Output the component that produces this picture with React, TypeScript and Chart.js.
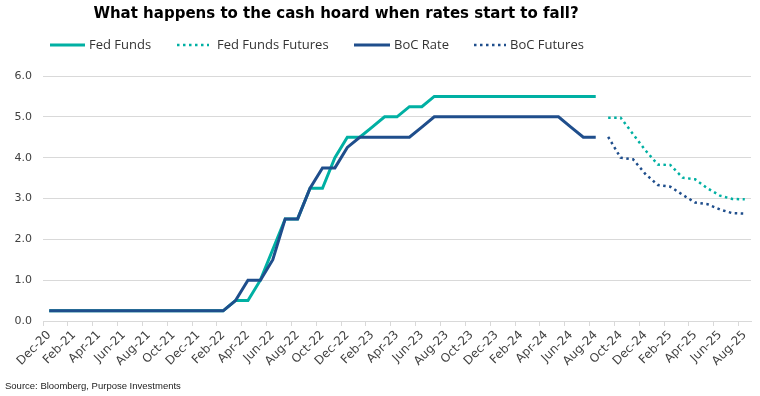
import React, { useEffect, useRef } from 'react';
import { Chart, registerables } from 'chart.js';

Chart.register(...registerables);

const TITLE = 'What happens to the cash hoard when rates start to fall?';
const SOURCE = 'Source: Bloomberg, Purpose Investments';

const months = [
  'Dec-20',
  'Jan-21', 'Feb-21', 'Mar-21', 'Apr-21', 'May-21', 'Jun-21', 'Jul-21', 'Aug-21', 'Sep-21', 'Oct-21', 'Nov-21', 'Dec-21',
  'Jan-22', 'Feb-22', 'Mar-22', 'Apr-22', 'May-22', 'Jun-22', 'Jul-22', 'Aug-22', 'Sep-22', 'Oct-22', 'Nov-22', 'Dec-22',
  'Jan-23', 'Feb-23', 'Mar-23', 'Apr-23', 'May-23', 'Jun-23', 'Jul-23', 'Aug-23', 'Sep-23', 'Oct-23', 'Nov-23', 'Dec-23',
  'Jan-24', 'Feb-24', 'Mar-24', 'Apr-24', 'May-24', 'Jun-24', 'Jul-24', 'Aug-24', 'Sep-24', 'Oct-24', 'Nov-24', 'Dec-24',
  'Jan-25', 'Feb-25', 'Mar-25', 'Apr-25', 'May-25', 'Jun-25', 'Jul-25', 'Aug-25',
];

// Dec-20 .. Aug-24
const fedFunds = [
  0.25,
  0.25, 0.25, 0.25, 0.25, 0.25, 0.25, 0.25, 0.25, 0.25, 0.25, 0.25, 0.25,
  0.25, 0.25, 0.5, 0.5, 1.0, 1.75, 2.5, 2.5, 3.25, 3.25, 4.0, 4.5,
  4.5, 4.75, 5.0, 5.0, 5.25, 5.25, 5.5, 5.5, 5.5, 5.5, 5.5, 5.5,
  5.5, 5.5, 5.5, 5.5, 5.5, 5.5, 5.5, 5.5,
];

const bocRate = [
  0.25,
  0.25, 0.25, 0.25, 0.25, 0.25, 0.25, 0.25, 0.25, 0.25, 0.25, 0.25, 0.25,
  0.25, 0.25, 0.5, 1.0, 1.0, 1.5, 2.5, 2.5, 3.25, 3.75, 3.75, 4.25,
  4.5, 4.5, 4.5, 4.5, 4.5, 4.75, 5.0, 5.0, 5.0, 5.0, 5.0, 5.0,
  5.0, 5.0, 5.0, 5.0, 5.0, 4.75, 4.5, 4.5,
];

// Sep-24 .. Aug-25
const fedFuturesValues = [4.98, 4.98, 4.58, 4.18, 3.83, 3.82, 3.51, 3.47, 3.25, 3.07, 2.99, 2.98];
const bocFuturesValues = [4.51, 4.0, 3.96, 3.6, 3.33, 3.29, 3.09, 2.9, 2.86, 2.73, 2.64, 2.63];

const seriesNames = ['Fed Funds', 'Fed Funds Futures', 'BoC Rate', 'BoC Futures'];
const yTicks = [0, 1, 2, 3, 4, 5, 6];

const TEAL = '#00B0A3';
const BLUE = '#1F4E8C';
const DOT_DASH = [2.5, 3.5];

function padStart<T>(arr: T[], count: number): (T | null)[] {
  return [...new Array(count).fill(null), ...arr];
}

const overlayPlugin = {
  id: 'overlay',
  afterDraw(chart: any) {
    const ctx = chart.ctx as CanvasRenderingContext2D;
    ctx.save();
    // Title
    ctx.fillStyle = '#000000';
    ctx.font = 'bold 15px "DejaVu Sans"';
    ctx.textAlign = 'center';
    ctx.textBaseline = 'alphabetic';
    ctx.fillText(TITLE, 336, 18);

    // Legend
    const items = [
      { x0: 50, x1: 85, tx: 89, color: TEAL, dash: [] as number[] },
      { x0: 177, x1: 209, tx: 217, color: TEAL, dash: DOT_DASH },
      { x0: 354, x1: 390, tx: 394, color: BLUE, dash: [] as number[] },
      { x0: 474, x1: 506, tx: 510, color: BLUE, dash: DOT_DASH },
    ];
    const ly = 45;
    items.forEach((it, i) => {
      ctx.beginPath();
      ctx.setLineDash(it.dash);
      ctx.lineWidth = it.dash.length ? 2.5 : 3;
      ctx.strokeStyle = it.color;
      ctx.moveTo(it.x0, ly);
      ctx.lineTo(it.x1, ly);
      ctx.stroke();
      ctx.setLineDash([]);
      ctx.fillStyle = '#333333';
      ctx.font = '13px "Open Sans"';
      ctx.textAlign = 'left';
      ctx.textBaseline = 'middle';
      ctx.fillText(seriesNames[i], it.tx, ly);
    });

    // Source
    ctx.fillStyle = '#222222';
    ctx.font = '9.5px "Liberation Sans"';
    ctx.textAlign = 'left';
    ctx.textBaseline = 'middle';
    ctx.fillText(SOURCE, 5, 386);
    ctx.restore();
  },
};

export default function App() {
  const canvasRef = useRef<HTMLCanvasElement | null>(null);

  useEffect(() => {
    document.body.style.margin = '0';
    const canvas = canvasRef.current;
    if (!canvas) return;
    const nFut = fedFunds.length;
    const chart = new Chart(canvas, {
      type: 'line',
      data: {
        labels: months,
        datasets: [
          {
            label: seriesNames[0],
            data: fedFunds,
            borderColor: TEAL,
            backgroundColor: TEAL,
            borderWidth: 3,
            pointRadius: 0,
            tension: 0,
            order: 2,
          },
          {
            label: seriesNames[1],
            data: padStart(fedFuturesValues, nFut),
            borderColor: TEAL,
            backgroundColor: TEAL,
            borderWidth: 2.5,
            borderDash: DOT_DASH,
            pointRadius: 0,
            tension: 0,
            order: 3,
          },
          {
            label: seriesNames[2],
            data: bocRate,
            borderColor: BLUE,
            backgroundColor: BLUE,
            borderWidth: 3,
            pointRadius: 0,
            tension: 0,
            order: 0,
          },
          {
            label: seriesNames[3],
            data: padStart(bocFuturesValues, nFut),
            borderColor: BLUE,
            backgroundColor: BLUE,
            borderWidth: 2.5,
            borderDash: DOT_DASH,
            pointRadius: 0,
            tension: 0,
            order: 1,
          },
        ],
      },
      options: {
        responsive: false,
        animation: false,
        layout: { padding: { left: 0, right: 9, top: 76, bottom: 0 } },
        plugins: {
          legend: { display: false },
          title: { display: false },
          tooltip: { enabled: false },
        },
        scales: {
          x: {
            type: 'category',
            offset: true,
            afterFit: (scale: any) => {
              scale.height = 75;
            },
            grid: {
              offset: true,
              drawOnChartArea: false,
              drawTicks: true,
              tickLength: 5,
              color: (c: any) => (typeof c.index === 'number' && c.index % 2 === 0 ? '#d9d9d9' : 'rgba(0,0,0,0)'),
            },
            border: { display: true, color: '#d9d9d9', width: 1 },
            ticks: {
              autoSkip: false,
              maxRotation: 45,
              minRotation: 45,
              padding: 2,
              color: '#404040',
              font: { family: '"DejaVu Sans"', size: 12 },
              callback: (_v: any, i: number) => (i % 2 === 0 ? months[i] : ''),
            },
          },
          y: {
            min: yTicks[0],
            max: yTicks[yTicks.length - 1],
            afterFit: (scale: any) => {
              scale.width = 43;
            },
            afterBuildTicks: (scale: any) => {
              scale.ticks = yTicks.map((v) => ({ value: v }));
            },
            grid: { color: '#d9d9d9', drawTicks: false, lineWidth: 1 },
            border: { display: false },
            ticks: {
              padding: 11,
              color: '#404040',
              font: { family: '"DejaVu Sans"', size: 11 },
              callback: (v: any) => Number(v).toFixed(1),
            },
          },
        },
      },
      plugins: [overlayPlugin],
    });
    return () => chart.destroy();
  }, []);

  return <canvas ref={canvasRef} width={760} height={396} style={{ display: 'block' }} />;
}
